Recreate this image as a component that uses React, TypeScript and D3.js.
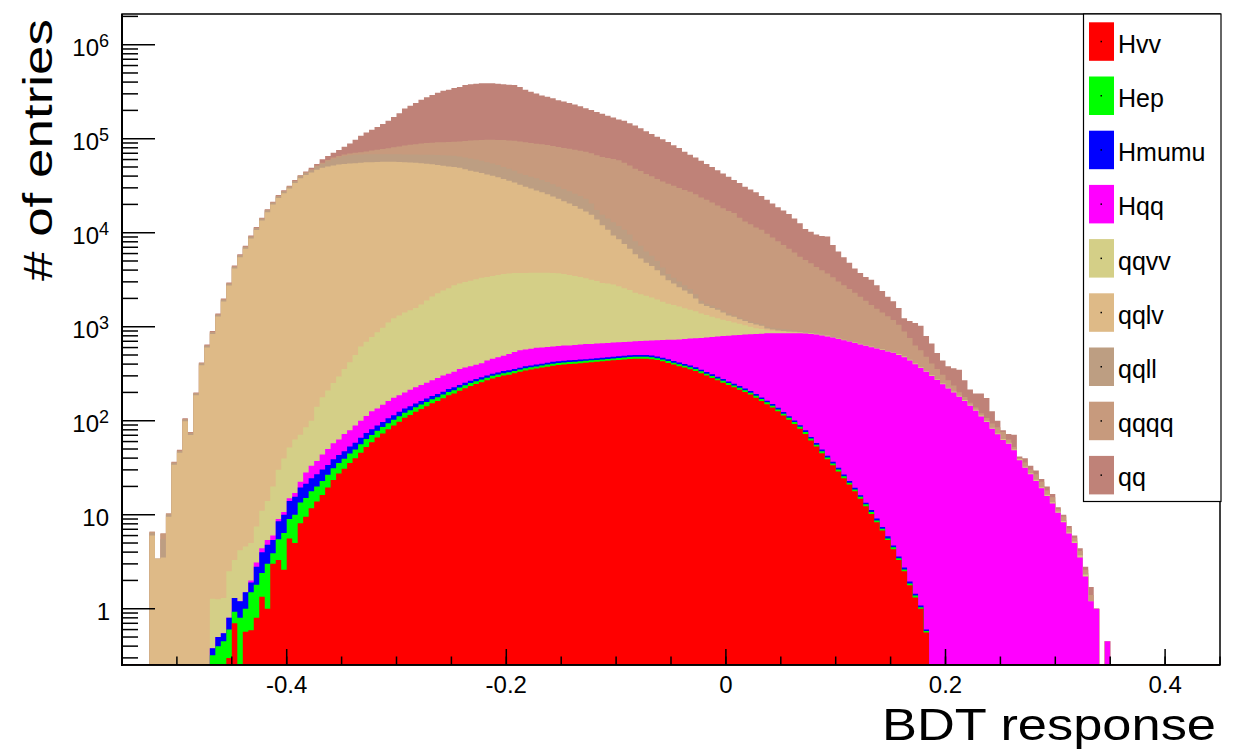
import React from "react";
import * as d3 from "d3";

// ---- categories: BDT-response bins (low edges), width 0.005 ----
const binWidth = 0.005;
const nBins = 177;
const binLowEdges = d3.range(nBins).map((i) => +(-0.525 + i * binWidth).toFixed(3));

// ---- series values (entries per bin) ----
const hvv = [
  0,0,0,0,0,0,0,0,0,0,
  0,0,0,0,0.3,0.7,0,0.57,0.59,0.8,
  1.34,1.0,3.0,3.3,2.6,5.6,5.0,8.1,9.5,11.7,
  13.8,16.2,19.5,23.4,27.5,30.9,35.5,39.8,45.7,52.5,
  58.9,66.1,73.3,81.3,89.1,97.7,107.2,114.8,124.5,133.4,
  142.9,153.1,162.2,173.8,186.2,195,208.9,221.3,234.4,245.5,
  257,269.2,281.8,291.7,302,309,319.9,331.1,342.8,350.8,
  358.9,367.3,375.8,384.6,391.7,396.3,400.9,404.6,409.3,414,
  418.8,423.6,428.5,433.5,438.5,443.6,448.7,453.9,457.1,457.1,
  457.1,451.9,441.6,428.5,412.1,395.4,380.2,367.3,353.2,338.8,
  319.9,302,285.1,269.2,254.1,239.9,226.5,213.8,201.8,189.7,
  175.8,162.2,149.6,138,125.9,113.5,102.3,92.3,82.2,72.4,
  61.7,53.1,45.2,38.9,33.5,28.8,24.5,20.9,17.8,14.8,
  12.3,10.2,8.3,6.8,5.4,4.3,3.3,2.5,1.78,1.32,
  1.0,0.56,0,0,0,0,0,0,0,0,
  0,0,0,0,0,0,0,0,0,0,
  0,0,0,0,0,0,0,0,0,0,
  0,0,0,0,0,0,0,
];
const hep = [
  0,0,0,0,0,0,0,0,0,0,
  0,0.32,0.4,0.45,0.3,0.23,0.8,0.43,0.91,1.0,
  1.06,2.0,0.9,2.2,3.8,3.4,5,5.4,5.6,6.1,
  6.2,6.7,7.1,7.9,8.0,8.5,9.2,9.7,10.5,11.3,
  11.6,12.1,12.4,12.9,13.2,13.7,14.4,14.3,14.8,15.2,
  15.6,15.9,15.6,15.9,16.1,16.3,16.5,16.9,16.8,16.9,
  17.2,17.2,18.1,18,18.6,18.3,18.9,18.8,19.4,19,
  19.5,19.2,19.7,20,19.4,19.6,19.8,19,19.2,19.5,
  19.7,20,20.2,20.4,20.7,20.9,21.2,21.4,21.5,21.5,
  21.5,21.3,20.8,20.2,19.4,18.6,17.9,17.3,16.6,16,
  15.1,14.2,13.4,12.6,12,11.3,10.6,10.1,9.5,8.9,
  8.3,7.6,7.1,6.5,5.9,5.4,4.9,4.3,3.9,3.5,
  2.9,2.5,2.1,1.8,1.6,1.4,1.2,1.0,0.8,0.7,
  0.6,0.5,0.4,0.3,0.2,0.2,0.15,0.12,0.08,0.06,
  0.04,0.02,0,0,0,0,0,0,0,0,
  0,0,0,0,0,0,0,0,0,0,
  0,0,0,0,0,0,0,0,0,0,
  0,0,0,0,0,0,0,
];
const hmumu = [
  0,0,0,0,0,0,0,0,0,0,
  0,0.06,0.1,0.1,0.2,0.37,0.4,0.5,0.4,1.0,
  1.6,1.8,1.5,3.0,3.6,5,5.5,6.0,6.3,6.7,
  6.9,7.3,7.3,7.6,7.7,7.9,8.4,8.7,9.6,10.2,
  10.4,10.9,11.3,11.7,12.3,12.8,13.3,13.1,13.5,13.6,
  13.7,13.8,14.1,14,14.5,15.2,15,15.3,15.5,15.5,
  15.5,15.6,16.3,16.1,16.7,16.3,16.8,16.5,17.1,17.5,
  17.9,18.1,18.6,19,18.4,18.6,18.8,19,18.2,18.4,
  18.6,18.8,19,19.3,19.4,19.7,19.9,20.2,20.3,20.3,
  20.3,20,19.6,19,18.3,17.5,16.9,16.3,15.7,15,
  14.1,13.4,12.7,12,11.2,10.6,10.1,9.4,9,8.4,
  7.8,7.2,6.6,6.2,5.6,5,4.5,4.1,3.6,3.2,
  2.7,2.3,2.0,1.8,1.5,1.3,1.1,0.9,0.8,0.6,
  0.5,0.5,0.4,0.3,0.3,0.2,0.15,0.12,0.09,0.06,
  0.04,0.02,0,0,0,0,0,0,0,0,
  0,0,0,0,0,0,0,0,0,0,
  0,0,0,0,0,0,0,0,0,0,
  0,0,0,0,0,0,0,
];
const hqq = [
  0,0,0,0,0,0,0,0,0,0,
  0,0,0,0,0,0,0,0,0.1,0.3,
  0.4,0.6,0.6,0.5,0.7,1,1.5,2.9,6.8,8.6,
  10.3,13.5,16.2,18.6,19.9,25.1,26.3,30.9,34.2,38.2,
  45,45.8,50.9,56.3,61.2,62,64.6,71.6,73.7,77.7,
  81.9,86.4,93.2,98.3,99.4,104.6,114.4,113.8,113.5,115.7,
  117.7,134.5,140.9,147.4,152.5,169.3,181.4,195.9,192.2,194.8,
  199.4,198,195.4,193,194.2,196.5,191.5,195.7,199,201.2,
  199,198.3,197.6,198.2,199,199.7,198.9,196.3,200.9,205.8,
  209,219.6,234.1,253.4,274.6,296.3,317.8,340.4,364.4,383.6,
  409.5,437.8,465,491.4,517,541.7,565.6,585.1,603.8,624.8,
  643.7,664.4,687.8,700.4,713.7,727.2,739.4,750.4,761.4,766.2,
  768.3,768.1,757.9,746.4,730.8,706.5,692.6,672.2,652,632.5,
  613.2,594.1,575.7,557.5,539.9,522.5,497.6,470.5,434.6,396.7,
  362,330.5,298.5,271,244.3,220.3,199.5,179.9,162.2,144.5,
  127.4,110.9,96.6,82.2,71.6,62.4,56.9,48.4,38,31.6,
  26.9,22.9,19.1,15.8,13.2,10.5,8.3,6.3,5.0,3.5,
  2.2,1.2,1.0,0,0.45,0,0,
];
const qqvv = [
  0,0,0,0,0,0,0,0,0,0,
  0,0.9,0.76,0.75,1.7,2.0,3.0,3.1,3.0,4.4,
  6.6,8.6,14,21,29,37,46,48.4,56.9,66.9,
  104,134,159,194,232,283,338,412,517,580,
  650,736,829,947,1054,1132,1213,1282,1359,1478,
  1651,1820,1980,2125,2254,2423,2529,2618,2710,2805,
  2904,2952,3010,3075,3141,3160,3178,3153,3162,3168,
  3162,3155,3149,3116,3074,3000,2917,2829,2742,2620,
  2506,2394,2252,2213,2140,2008,1881,1763,1591,1508,
  1430,1329,1234,1120,1034,970,908,826,764,709,
  621,567,498,445,395,345,296,254,211,168,
  130,103,61,51,40,30,20,14,10,5.7,
  5.4,6,6,5,3.6,3,4.6,5,4.6,4.4,
  4.4,4.7,4.2,4.1,4.2,3.8,5.8,5.8,5.5,4.9,
  3.9,3.9,3.5,2.5,2.3,2,3,3,2.5,2.7,
  2.3,1.8,1.5,1.4,1.2,0.7,1,0.8,0.5,0.5,
  0.4,0.4,0.3,0.3,0.2,0.2,0.2,0.1,0.1,0.1,
  0.1,0,0,0,0,0,0,
];
const qqlv = [
  6.0,3.4,3.5,9.5,34,45.5,98.5,70.5,186,388,
  601,836,1283,1855,2744,4154,5476,6737,8680,10676,
  13440,16535,19880,23360,26210,29400,33770,37950,41120,43550,
  46630,48800,50490,51630,52800,53350,53910,54450,54970,55290,
  55450,55620,55770,55780,55660,55300,54820,54350,53880,53230,
  52180,51370,50220,49210,48130,47140,46100,44340,42620,41260,
  39840,38300,36800,35350,33520,32060,30570,28650,27170,25760,
  24420,23160,21940,20540,19210,18000,16870,15810,14600,13520,
  12330,10750,9103,7836,6515,5819,5016,4306,3597,3096,
  2648,2374,2031,1667,1368,1186,989,860,725,533,
  378,326,311,284,224,170,165,130,113,96,
  93,79,43,31,21,21,20,16,10,10,
  10,9,9,10,5,9,4,5,5,5,
  4,4,4,4,3,4,4,3,3,3,
  3,2,3,1.5,1.5,1.5,1.5,1.5,1.5,1,
  0.7,0.8,0.8,0.6,0.5,0.7,0.3,0.3,0.3,0.3,
  0.3,0.2,0.2,0.2,0.2,0.1,0.1,0.1,0.1,0.1,
  0,0,0,0,0,0,0,
];
const qqll = [
  0.4,0,2.0,0.5,1.3,1.7,3.7,2.7,7,15,
  23,32,48,70,103,156,206,254,327,402,
  506,622,748,879,986,1107,1270,1790,1940,2590,
  3930,4720,6840,9070,10010,11610,12500,12660,12490,12250,
  12160,11900,11640,11500,11500,11610,11850,12070,12300,12660,
  13370,13840,14510,15040,15670,15880,15590,15780,15950,15520,
  15060,14540,14060,13580,12970,12130,11430,10300,10310,9850,
  9660,9390,8970,8460,7990,7540,7120,6720,6560,6120,
  4930,3580,3470,3410,3547,3239,3134,2789,2240,1935,
  1524,1273,1031,758,505,427,390,327,273,218,
  126,98,94,71,66,62,44,43,41,39,
  37,36,45,44,43,42,42,31,31,30,
  30,30,29,18,18,17,13,11,11,10,
  11,10,10,9,9,8,8,8,7,6,
  6,6,4,4,3,2.5,2.5,2,2,2,
  1.5,1.5,1,1,0.8,0.8,0.7,0.6,0.5,0.5,
  0.4,0.4,0.3,0.3,0.2,0.2,0.2,0.1,0.1,0.1,
  0.1,0,0,0,0,0,0,
];
const qqqq = [
  0.2,0,0.8,0.3,0.8,1,2,1.5,4,8,
  12,17,26,38,56,85,112,138,177,218,
  275,338,406,477,535,600,690,700,800,1000,
  1300,1600,1900,2150,2400,2600,2800,3100,3530,5050,
  6600,7820,9230,10680,12520,14560,16640,18180,19740,21520,
  22710,23480,24420,25150,25890,26910,28760,31310,33840,36180,
  38400,41040,43390,44570,46490,48080,49350,50670,50410,50800,
  50670,50790,50840,50830,50760,50630,50440,50210,49920,49870,
  49560,49450,48340,48240,48070,47130,44870,42330,39730,37950,
  35860,34120,32140,30810,29480,28310,26830,25760,24720,23490,
  21830,20630,19210,17920,16720,15600,14900,13200,11990,11170,
  10250,9661,8772,7936,7173,6469,5828,5254,4657,4238,
  3851,3444,3130,2851,2556,2253,2013,1796,1599,1421,
  1238,1074,946,831,726,632,528,401,307,219,
  186,136,98,76,58,43,30,14,10,5,
  6,5,7,8,11,11.4,4.2,2.4,0.5,3,
  2,3,2.5,1.5,1.5,0.6,0.8,0.6,0.4,0.3,
  0.2,0.2,0,0,0,0,0,
];
const qq = [
  0,0,0,0,0.5,0.8,1.8,1.3,3,6,
  10,14,22,31,47,71,94,116,149,184,
  231,285,342,402,450,506,581,230,720,1740,
  1700,4960,5870,7690,10360,14310,19500,27010,35590,42820,
  49510,57190,65280,75830,88890,103410,124180,137800,152400,170870,
  185240,200920,217590,231770,238840,254020,261470,277090,284700,288440,
  292390,291730,291280,287550,283590,279860,276440,261470,239480,226040,
  213490,201300,193090,185640,175340,168500,161920,155490,146830,138520,
  131820,125970,120270,113430,106950,101420,99310,94320,90140,83610,
  78030,72390,67550,63780,59150,53490,49580,43930,40380,37400,
  34500,31310,29230,26740,24460,22380,20090,19430,17720,16540,
  15570,13830,12620,11510,10490,9767,9089,7964,7031,5831,
  5498,5235,5245,5447,4063,3290,2741,2274,1878,1626,
  1504,1464,1205,986,801,687,538,339,389,465,
  461,315,254,170,128,111,126,147,91,59,
  57,75,67,33,15,3,9.3,18.3,1.9,3.9,
  3.1,2.6,1.6,1.9,1.3,0.4,0.4,0.4,0.3,0.3,
  0.2,0.3,0,0,0,0,0,
];

const seriesNames = ["Hvv", "Hep", "Hmumu", "Hqq", "qqvv", "qqlv", "qqll", "qqqq", "qq"];
const seriesValues = [hvv, hep, hmumu, hqq, qqvv, qqlv, qqll, qqqq, qq];
const seriesColors = ["#ff0000", "#00ff00", "#0000ff", "#ff00ff", "#d4cf87", "#deba87", "#bd9e82", "#c79a7d", "#bf8278"];

// ---- tick labels ----
const xMajorTicks = [-0.4, -0.2, 0, 0.2, 0.4];
const xTickLabels = ["-0.4", "-0.2", "0", "0.2", "0.4"];
const yDecades = [0, 1, 2, 3, 4, 5, 6];

const W = 1233;
const H = 750;
const frame = { left: 122, right: 1220, top: 14, bottom: 665 };
const FONT = "'Liberation Sans', Arial, Helvetica, sans-serif";

export default function App() {
  const x = d3.scaleLinear().domain([-0.55, 0.45]).range([frame.left, frame.right]);
  const yMin = 0.252;
  const yMax = 2.12e6;
  const y = d3.scaleLog().domain([yMin, yMax]).range([frame.bottom, frame.top]);
  const ys = (v: number) => y(Math.max(v, yMin));

  const table = binLowEdges.map((e, i) => {
    const row: any = { edge: e };
    seriesNames.forEach((n, k) => (row[n] = seriesValues[k][i] ?? 0));
    return row;
  });
  const stacked = d3.stack<any>().keys(seriesNames)(table);

  const area = d3
    .area<{ x: number; top: number }>()
    .x((d) => x(d.x))
    .y0(frame.bottom)
    .y1((d) => ys(d.top))
    .curve(d3.curveStepAfter);

  const layerPaths = stacked.map((layer) => {
    const pts = layer.map((s, i) => ({ x: binLowEdges[i], top: s[1] }));
    const last = layer[layer.length - 1];
    pts.push({ x: binLowEdges[binLowEdges.length - 1] + binWidth, top: last[1] });
    return area(pts) as string;
  });

  const yMinor: number[] = [];
  for (let d = -1; d <= 6; d++) {
    for (let k = 2; k <= 9; k++) {
      const v = k * Math.pow(10, d);
      if (v >= yMin && v <= yMax) yMinor.push(v);
    }
  }
  const xMinor = d3.range(-0.55, 0.4501, 0.05).map((v) => +v.toFixed(2));

  const legendTop = 22.3;
  const legendStep = 54.2;

  return (
    <svg
      width={W}
      height={H}
      style={{ position: "absolute", left: 0, top: 0, background: "#fff" }}
      fontFamily={FONT}
    >
      <defs>
        <clipPath id="plotClip">
          <rect x={frame.left} y={frame.top} width={frame.right - frame.left} height={frame.bottom - frame.top} />
        </clipPath>
      </defs>
      <rect x={0} y={0} width={W} height={H} fill="#fff" />
      <g clipPath="url(#plotClip)">
        {layerPaths
          .map((p, i) => ({ p, i }))
          .reverse()
          .map(({ p, i }) => (
            <path key={seriesNames[i]} d={p} fill={seriesColors[i]} stroke="none" />
          ))}
      </g>
      <line x1={frame.left} x2={frame.right} y1={frame.bottom - 0.5} y2={frame.bottom - 0.5} stroke="#7a2c22" strokeWidth={1} />
      <rect
        x={frame.left}
        y={frame.top}
        width={frame.right - frame.left}
        height={frame.bottom - frame.top}
        fill="none"
        stroke="#000"
        strokeWidth={1.5}
      />
      <line x1={frame.left} x2={frame.left} y1={frame.top} y2={frame.bottom + 1} stroke="#000" strokeWidth={2} />
      <line x1={frame.left} x2={frame.right} y1={frame.bottom} y2={frame.bottom} stroke="#000" strokeWidth={1.5} />
      {yDecades.map((d) => {
        const yy = y(Math.pow(10, d));
        return <line key={"ym" + d} x1={frame.left} x2={frame.left + 33} y1={yy} y2={yy} stroke="#000" strokeWidth={1.5} />;
      })}
      {yMinor.map((v, i) => {
        const yy = y(v);
        return <line key={"yn" + i} x1={frame.left} x2={frame.left + 16} y1={yy} y2={yy} stroke="#000" strokeWidth={1.5} />;
      })}
      {yDecades.map((d) => {
        const yy = y(Math.pow(10, d));
        if (d === 0)
          return (
            <text key={"yl" + d} x={110} y={yy + 11} fontSize={24} textAnchor="end" fill="#000">
              1
            </text>
          );
        if (d === 1)
          return (
            <text key={"yl" + d} x={109} y={yy + 11} fontSize={24} textAnchor="end" fill="#000">
              10
            </text>
          );
        return (
          <text key={"yl" + d} x={109} y={yy + 11} fontSize={24} textAnchor="end" fill="#000">
            10
            <tspan fontSize={18} dy={-8.5}>
              {String(d)}
            </tspan>
          </text>
        );
      })}
      {xMinor.map((v, i) => (
        <line key={"xn" + i} x1={x(v)} x2={x(v)} y1={frame.bottom} y2={frame.bottom - 8.5} stroke="#000" strokeWidth={1.5} />
      ))}
      {xMajorTicks.map((v, i) => (
        <line key={"xm" + i} x1={x(v)} x2={x(v)} y1={frame.bottom} y2={frame.bottom - 16} stroke="#000" strokeWidth={1.5} />
      ))}
      {xMajorTicks.map((v, i) => (
        <text key={"xl" + i} x={x(v)} y={693} fontSize={24} textAnchor="middle" fill="#000">
          {xTickLabels[i]}
        </text>
      ))}
      <text x={1216} y={740} fontSize={45} textAnchor="end" fill="#000" textLength={334} lengthAdjust="spacingAndGlyphs">
        BDT response
      </text>
      <text
        transform={`translate(52, 150) rotate(-90)`}
        fontSize={40}
        textAnchor="middle"
        fill="#000"
        textLength={262}
        lengthAdjust="spacingAndGlyphs"
      >
        # of entries
      </text>
      <rect x={1083.5} y={14} width={137.5} height={487.5} fill="#fff" stroke="#000" strokeWidth={1.2} />
      {seriesNames.map((n, i) => {
        const top = legendTop + i * legendStep;
        return (
          <g key={"lg" + n}>
            <rect x={1089} y={top} width={25} height={38.5} fill={seriesColors[i]} />
            <rect x={1100.5} y={top + 18.5} width={1.5} height={1.5} fill="#000" />
            <text x={1118} y={top + 30.5} fontSize={25} fill="#000">
              {n}
            </text>
          </g>
        );
      })}
    </svg>
  );
}
